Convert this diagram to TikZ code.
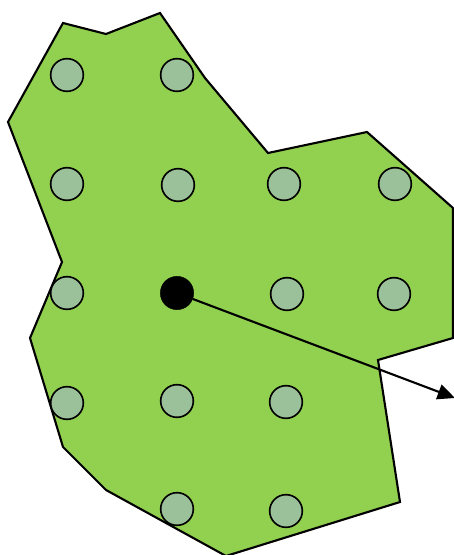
\documentclass[tikz,border=0pt]{standalone}
\usepackage{xcolor}
\usepackage{tikz}
\usetikzlibrary{arrows.meta}
\definecolor{regionGreen}{HTML}{92D050}
\definecolor{siteSoft}{HTML}{9BC19A}
\begin{document}
\begin{tikzpicture}[x=0.03cm, y=-0.03cm]
\tikzset{
  region/.style={draw=black, fill=regionGreen, line width=1.8pt, line join=miter},
  site/.style={circle, draw=black, fill=siteSoft, line width=1.4pt,
               minimum size=0.98cm, inner sep=0pt},
  query/.style={circle, draw=black, fill=black, minimum size=1cm, inner sep=0pt},
  ray/.style={-{Triangle[length=5.2mm, width=4.6mm]}, line width=1.8pt}
}
\useasboundingbox (0,0) rectangle (454,555);

% Region outline
\draw[region] (63,23) -- (106,34) -- (160,13) -- (205,78) -- (268,153)
  -- (367,132) -- (453,208) -- (453,338) -- (378,360) -- (400,502)
  -- (226,556) -- (106,490) -- (63,447) -- (30,338) -- (62,262)
  -- (8,122) -- cycle;

% Sample sites
\node[site] (s11) at (67,75) {};
\node[site] (s12) at (177,75) {};
\node[site] (s21) at (67,184) {};
\node[site] (s22) at (178,185) {};
\node[site] (s23) at (284,184) {};
\node[site] (s24) at (395,184) {};
\node[site] (s31) at (67,293) {};
\node[site] (s33) at (287,294) {};
\node[site] (s34) at (394,294) {};
\node[site] (s41) at (67,403) {};
\node[site] (s42) at (177,401) {};
\node[site] (s43) at (286,402) {};
\node[site] (s52) at (177,509) {};
\node[site] (s53) at (286,511) {};

% Query point and ray
\node[query] (q) at (177,293) {};
\coordinate (rayEnd) at (455,398);
\draw[ray] (q) -- (rayEnd);
\end{tikzpicture}
\end{document}
